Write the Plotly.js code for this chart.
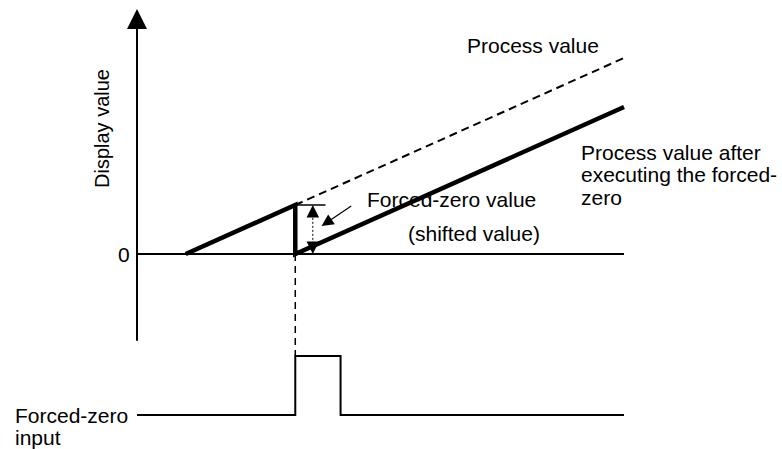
<!DOCTYPE html>
<html>
<head>
<meta charset="utf-8">
<script src="https://cdn.plot.ly/plotly-3.0.1.min.js"></script>
<style>
  html, body { margin: 0; padding: 0; background: #fff; }
  #plotArea { width: 782px; height: 449px; }
</style>
</head>
<body>
<div id="plotArea"></div>
<script>
// time axis: 0 = display axis, 10 = right end of the lines
var tStart = 1;        // ramp begins
var tZero = 3.25;      // forced-zero executed
var tPulseEnd = 4.18;  // input released
var tEnd = 10;

// display values
var zeroLineT = [0, tEnd];
var zeroLineV = [0, 0];
var processT = [tZero, tEnd];
var processV = [2, 8];
var shiftedT = [tStart, tZero, tZero, tEnd];
var shiftedV = [0, 2, 0, 6];
var offsetValue = 2;

// forced-zero input signal
var inputT = [0, tZero, tZero, tPulseEnd, tPulseEnd, tEnd];
var inputV = [0, 0, 1, 1, 0, 0];

var font = "'Liberation Sans', Arial, Helvetica, sans-serif";

var traces = [
  { x: zeroLineT, y: zeroLineV, mode: "lines", line: { color: "#000", width: 2 } },
  { x: processT, y: processV, mode: "lines", line: { color: "#000", width: 2, dash: "8px,5px" } },
  { x: shiftedT, y: shiftedV, mode: "lines", line: { color: "#000", width: 4.5 } },
  // tick at top of forced-zero value
  { x: [tZero, 3.87], y: [offsetValue, offsetValue], mode: "lines", line: { color: "#000", width: 1.5 } },
  // dotted dimension line
  { x: [3.61, 3.61], y: [0.25, offsetValue - 0.25], mode: "lines", line: { color: "#000", width: 1, dash: "2px,2px" } },
  // connector from display chart down to the input pulse
  { x: [tZero, tZero], y: [2.73, 1], yaxis: "y2", mode: "lines", line: { color: "#000", width: 1.5, dash: "7px,5px" } },
  { x: inputT, y: inputV, yaxis: "y2", mode: "lines", line: { color: "#000", width: 2 } }
];

function label(txt, px, py, opts, size) {
  var a = {
    text: txt, xref: "paper", yref: "paper",
    x: px / 782, y: 1 - py / 449,
    xanchor: "left", yanchor: "middle",
    showarrow: false,
    font: { family: font, size: size || 21, color: "#000" }
  };
  for (var k in opts) a[k] = opts[k];
  return a;
}

var annotations = [
  // display axis with arrow
  { x: 0, y: 10.0, ax: 0, ay: -3.6, xref: "x", yref: "y", axref: "x", ayref: "y",
    showarrow: true, arrowhead: 2, arrowsize: 2, arrowwidth: 2, arrowcolor: "#000", text: "" },
  // double arrow of the shifted value
  { x: 3.61, y: offsetValue, xref: "x", yref: "y", ax: 0, ay: 13,
    showarrow: true, arrowhead: 2, arrowsize: 2.5, arrowwidth: 1, arrowcolor: "#000", text: "" },
  { x: 3.61, y: 0, xref: "x", yref: "y", ax: 0, ay: -13,
    showarrow: true, arrowhead: 2, arrowsize: 2.5, arrowwidth: 1, arrowcolor: "#000", text: "" },
  // pointer to the value
  { x: 3.79, y: 1.14, ax: 4.43, ay: 2.0, xref: "x", yref: "y", axref: "x", ayref: "y",
    showarrow: true, arrowhead: 2, arrowsize: 2, arrowwidth: 1.2, arrowcolor: "#000", text: "" },

  label("0", 116, 254),
  label("Display value", 102, 129, { textangle: -90, xanchor: "center" }, 20),
  label("Process value", 465, 45),
  label("Process value after", 579, 152),
  label("executing the forced-", 579, 175),
  label("zero", 579, 198),
  label("Forced-zero value", 365, 199),
  label("(shifted value)", 406, 233),
  label("Forced-zero", 13, 415),
  label("input", 13, 437)
];

var layout = {
  width: 782, height: 449,
  margin: { l: 0, r: 0, t: 0, b: 0 },
  paper_bgcolor: "#fff", plot_bgcolor: "#fff",
  showlegend: false,
  hovermode: false,
  xaxis: { range: [-2.813, 13.244], visible: false, fixedrange: true },
  yaxis: { range: [-7.959, 10.367], visible: false, fixedrange: true },
  yaxis2: { range: [-0.576, 7.034], overlaying: "y", visible: false, fixedrange: true },
  annotations: annotations
};

Plotly.newPlot("plotArea", traces, layout, { staticPlot: true, displayModeBar: false });
</script>
</body>
</html>
